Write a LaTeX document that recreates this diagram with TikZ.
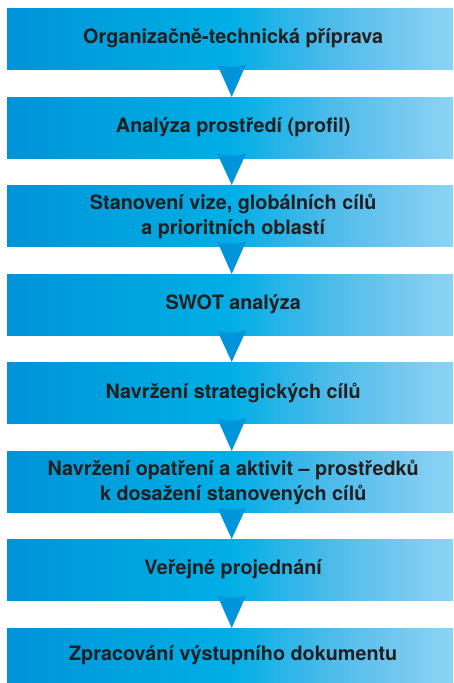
\documentclass[tikz,border=0pt]{standalone}
\usepackage{fontspec}
\setmainfont{TeX Gyre Heros}
\usetikzlibrary{calc}
\definecolor{g0}{HTML}{0093D9}
\definecolor{g1}{HTML}{00A3DE}
\definecolor{g2}{HTML}{00AEE6}
\definecolor{g3}{HTML}{4DBBEA}
\definecolor{g4}{HTML}{7FCCF2}
\definecolor{g5}{HTML}{8CD4F5}
\definecolor{tri}{HTML}{0095DA}
\definecolor{txt}{HTML}{231F20}
\pgfdeclarehorizontalshading{boxgrad}{100bp}{color(0bp)=(g0); color(25bp)=(g0); color(38.8bp)=(g1); color(50bp)=(g2); color(61.2bp)=(g3); color(71.3bp)=(g4); color(75bp)=(g5); color(100bp)=(g5)}
\tikzset{
  stage/.style={shade, shading=boxgrad, minimum width=446pt, minimum height=61pt, inner sep=0pt,
    anchor=north west},
  lastst/.style={stage, minimum height=55pt},
  lbl/.style={align=center, text=txt, inner sep=0pt, font=\fontsize{19.8pt}{25pt}\selectfont\bfseries},
  arr/.style={fill=tri}
}
\begin{document}
\begin{tikzpicture}[x=1pt,y=1pt]
\useasboundingbox (0,0) rectangle (453,683);
\node[stage] (b1) at (7,675) {};
\node[stage] (b2) at (7,586) {};
\node[stage] (b3) at (7,498) {};
\node[stage] (b4) at (7,409) {};
\node[stage] (b5) at (7,321) {};
\node[stage] (b6) at (7,232) {};
\node[stage] (b7) at (7,144) {};
\node[lastst] (b8) at (7,55) {};
\node[lbl] (t1) at ($(b1.center)+(3,0)$) {Organizačně-technická příprava};
\node[lbl] (t2) at ($(b2.center)+(3,0)$) {Analýza prostředí (profil)};
\node[lbl] (t3) at ($(b3.center)+(3,-1)$) {Stanovení vize, globálních cílů\\a prioritních oblastí};
\node[lbl] (t4) at ($(b4.center)+(3,0)$) {SWOT analýza};
\node[lbl] (t5) at ($(b5.center)+(3,0)$) {Navržení strategických cílů};
\node[lbl] (t6) at ($(b6.center)+(3,-1)$) {Navržení opatření a aktivit – prostředků\\k dosažení stanovených cílů};
\node[lbl] (t7) at ($(b7.center)+(3,0)$) {Veřejné projednání};
\node[lbl] (t8) at ($(b8.center)+(3,0)$) {Zpracování výstupního dokumentu};
\foreach \a/\b in {b1/b2,b2/b3,b3/b4,b4/b5,b5/b6,b6/b7,b7/b8}{
  \fill[arr] ($(\a.south)+(-13,5)$) .. controls ($(\a.south)+(-5,1.8)$) and ($(\a.south)+(8,1.8)$) .. ($(\a.south)+(16,5)$)
     -- ($(\b.north)+(1.5,0)$) -- cycle;
}
\end{tikzpicture}
\end{document}
